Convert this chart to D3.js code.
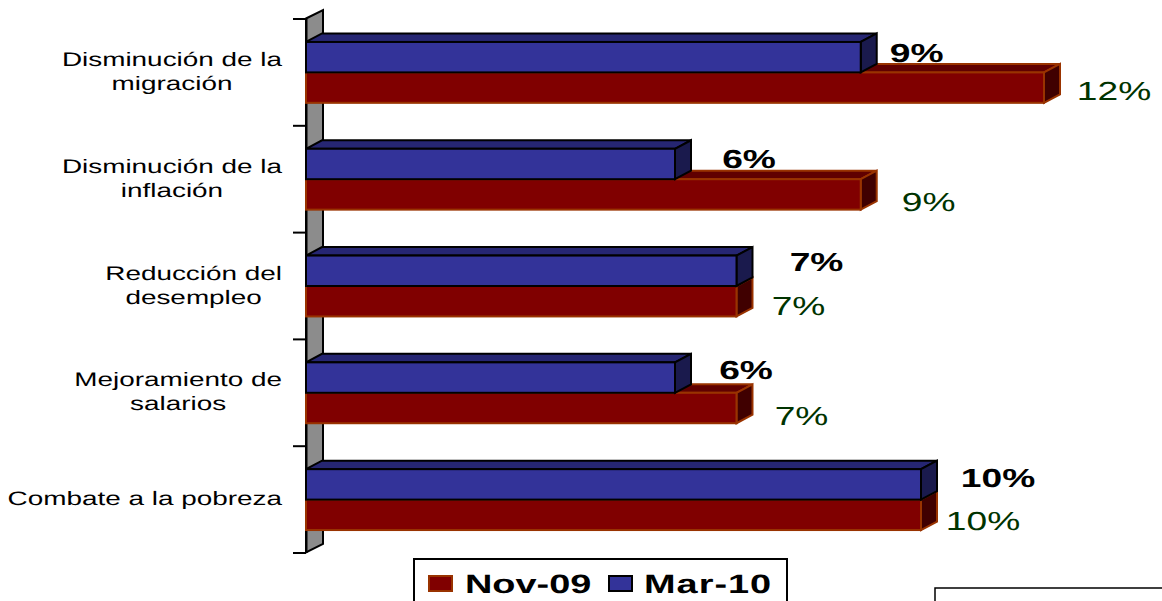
<!DOCTYPE html>
<html><head><meta charset="utf-8">
<script src="https://cdn.jsdelivr.net/npm/d3@7"></script>
<style>html,body{margin:0;padding:0;background:#fff;overflow:hidden}svg{display:block}text{font-family:"Liberation Sans",Arial,sans-serif;text-rendering:geometricPrecision}</style>
</head><body><svg id="c" width="1162" height="601"></svg>
<script>
const categories = ["Disminución de la\nmigración","Disminución de la\ninflación","Reducción del\ndesempleo","Mejoramiento de\nsalarios","Combate a la pobreza"];
const seriesNames = ["Mar-10","Nov-09"];
const mar10 = [9.02,6,7,6,10];
const nov09 = [12,9.02,7,7,10];
const valueTable = {"Mar-10":mar10,"Nov-09":nov09};

// manual label placement of the original chart (not data)
const labelDx = {"Mar-10":[56,74,80,71,77],"Nov-09":[70,68,62,65,62]};
const labelDy = {"Mar-10":[4.5,3.5,-0.5,0.5,2],"Nov-09":[12,16,13,16,15]};

const svg = d3.select("#c");
const SX = 1.43, DX = 16, DY = 8.5, WALL_DX = 17;
const x = d3.scaleLinear().domain([0,12]).range([306,1044]);
const y = d3.scaleBand().domain(categories).range([19,553]).paddingInner(.43).paddingOuter(.215);
const inner = d3.scaleBand().domain(seriesNames).range([0,y.bandwidth()]);
const yTicks = d3.scaleLinear().domain([0,categories.length]).range([18.5,552.5]);
const style = {
 "Mar-10":{front:"#333399",top:"#262673",side:"#1a1a4d",stroke:"#000000",label:"#000000",weight:"bold"},
 "Nov-09":{front:"#800000",top:"#600000",side:"#400000",stroke:"#993300",label:"#003300",weight:"normal"}
};
const stretched=(sel,px,py)=>sel.attr("transform",`translate(${px},${py}) scale(${SX},1)`);

// back wall
svg.append("path")
 .attr("d",`M${x(0)},${yTicks(0)}L${x(0)+WALL_DX},${yTicks(0)-DY}V${yTicks(5)-DY}L${x(0)},${yTicks(5)}Z`)
 .attr("fill","#8c8c8c").attr("stroke","#000").attr("stroke-width",2);

// axis
const ax = svg.append("g").attr("transform",`translate(${x(0)},0)`)
 .call(d3.axisLeft(yTicks).tickValues(d3.range(categories.length+1)).tickSize(13).tickSizeOuter(0).tickFormat(""));
ax.selectAll("line,path").attr("stroke","#000").attr("stroke-width",2);

// bars: lower series first so the upper one covers its top face
const order = ["Nov-09","Mar-10"];
order.forEach(name=>{
 const s = style[name];
 const g = svg.append("g");
 valueTable[name].forEach((v,i)=>{
  const y0 = y(categories[i])+inner(name), h = inner.bandwidth(), x0 = x(0), x1 = x(v);
  const b = g.append("g").attr("stroke",s.stroke).attr("stroke-width",2).attr("stroke-linejoin","miter");
  b.append("path").attr("fill",s.top).attr("d",`M${x0},${y0}L${x0+DX},${y0-DY}H${x1+DX}L${x1},${y0}Z`);
  b.append("path").attr("fill",s.side).attr("d",`M${x1},${y0}L${x1+DX},${y0-DY}V${y0+h-DY}L${x1},${y0+h}Z`);
  b.append("rect").attr("fill",s.front).attr("x",x0).attr("y",y0).attr("width",x1-x0).attr("height",h);
 });
});

// value labels
order.forEach(name=>{
 const s = style[name];
 valueTable[name].forEach((v,i)=>{
  const cy = y(categories[i])+inner(name)+inner.bandwidth()/2;
  svg.append("text").text(d3.format(".0f")(v)+"%")
   .attr("text-anchor","middle").attr("font-size",26).attr("font-weight",s.weight).attr("fill",s.label)
   .call(stretched,x(v)+labelDx[name][i],cy+labelDy[name][i]+0.5);
 });
});

// category labels: right-aligned block, centred lines
categories.forEach(c=>{
 const lines = c.split("\n"), cy = y(c)+y.bandwidth()/2;
 const nodes = lines.map((t,j)=>svg.append("text").text(t).attr("text-anchor","middle").attr("font-size",19.5).attr("fill","#000"));
 const w = d3.max(nodes,n=>n.node().getComputedTextLength())*SX;
 nodes.forEach((n,j)=>n.call(stretched,282-w/2,cy+5.5-(lines.length-1)*12+j*24));
});

// legend
svg.append("rect").attr("x",414).attr("y",559).attr("width",373).attr("height",60).attr("fill","#fff").attr("stroke","#000").attr("stroke-width",2);
[["Nov-09",429,465,0],["Mar-10",609,644,0.7]].forEach(([name,sx,tx,ls])=>{
 const s = style[name];
 svg.append("rect").attr("x",sx).attr("y",576).attr("width",23).attr("height",15).attr("fill",s.front).attr("stroke",s.stroke).attr("stroke-width",2);
 svg.append("text").text(name).attr("font-size",26.5).attr("font-weight","bold").attr("letter-spacing",ls).attr("fill","#000").call(stretched,tx,593);
});

// empty box at the lower right
svg.append("rect").attr("x",935).attr("y",588).attr("width",260).attr("height",40).attr("fill","#fff").attr("stroke","#000").attr("stroke-width",1.5);
</script></body></html>
